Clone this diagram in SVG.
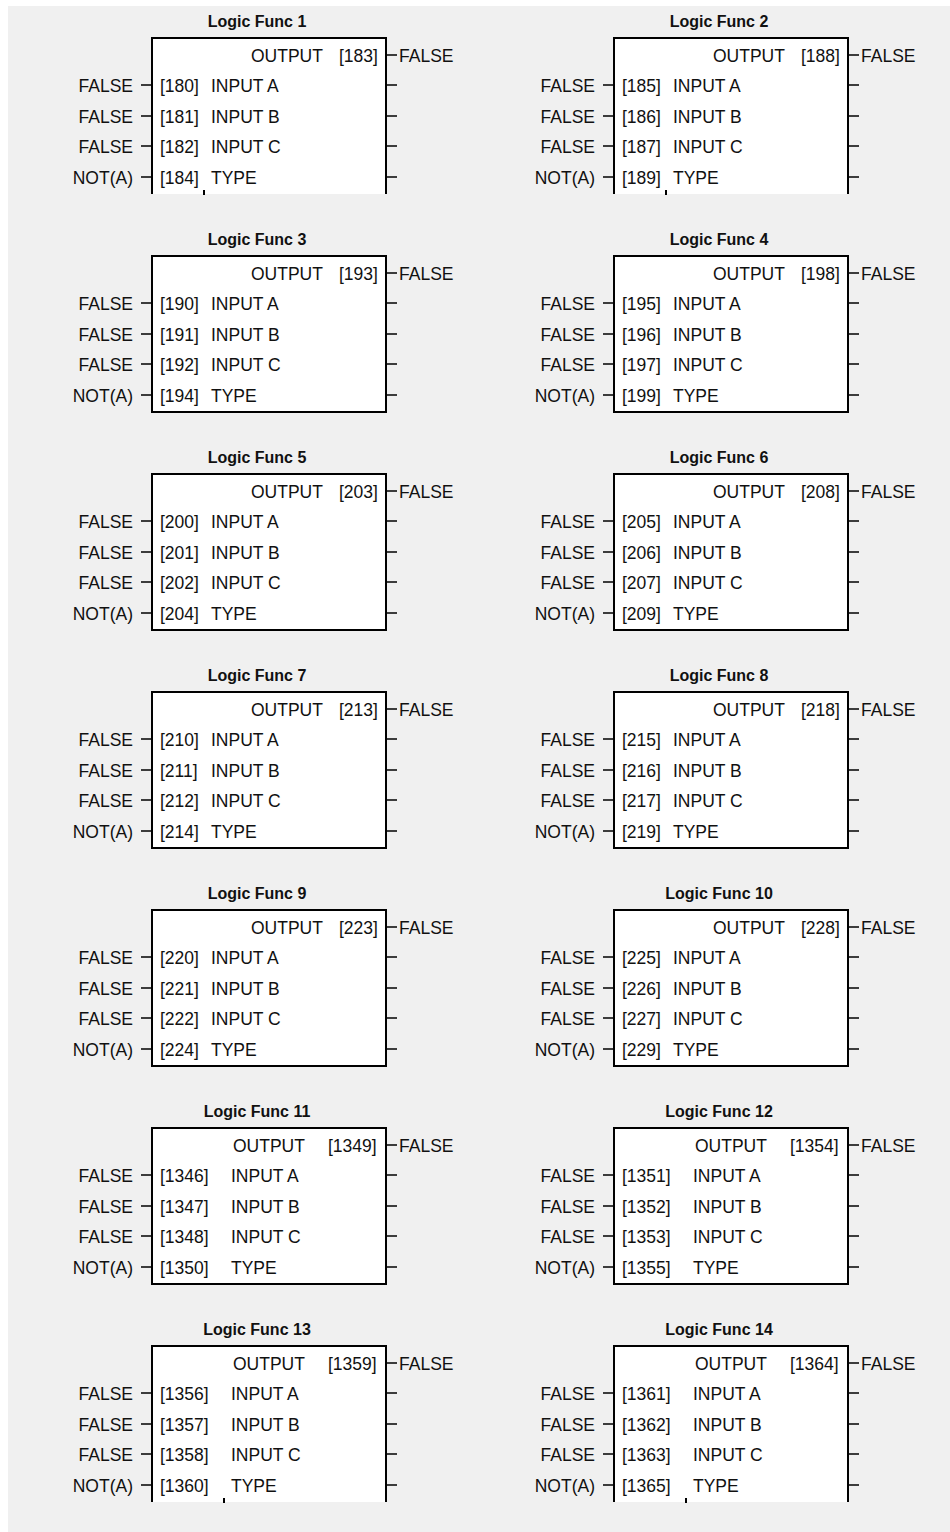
<svg xmlns="http://www.w3.org/2000/svg" xmlns:xlink="http://www.w3.org/1999/xlink" width="950" height="1532" viewBox="0 0 950 1532">
<style>
text{font-family:"Liberation Sans",Arial,sans-serif;font-size:17.5px;fill:#111}
.ttl{font-weight:bold;font-size:16px;text-anchor:middle}
.r{text-anchor:end}
.box{fill:#fff;stroke:#000;stroke-width:2}
.open{fill:none;stroke:#000;stroke-width:2}
.stub{fill:none;stroke:#000;stroke-width:1.6}
</style>
<defs>
<path id="stubs" d="M-11,47H0 M-11,78H0 M-11,108H0 M-11,139H0 M234,17H245 M234,47H245 M234,78H245 M234,108H245 M234,139H245"/>
<g id="openbox3"><rect x="0" y="0" width="234" height="156" fill="#fff"/><path class="open" d="M0,156V0H234V156 M52,152V157"/></g>
<g id="openbox4"><rect x="0" y="0" width="234" height="156" fill="#fff"/><path class="open" d="M0,156V0H234V156 M72,152V157"/></g>
</defs>
<rect x="8" y="6" width="942" height="1526" fill="#f0f0f0"/>
<g id="connectors" class="stub">
<use xlink:href="#stubs" href="#stubs" transform="translate(152,38)"/>
<use xlink:href="#stubs" href="#stubs" transform="translate(614,38)"/>
<use xlink:href="#stubs" href="#stubs" transform="translate(152,256)"/>
<use xlink:href="#stubs" href="#stubs" transform="translate(614,256)"/>
<use xlink:href="#stubs" href="#stubs" transform="translate(152,474)"/>
<use xlink:href="#stubs" href="#stubs" transform="translate(614,474)"/>
<use xlink:href="#stubs" href="#stubs" transform="translate(152,692)"/>
<use xlink:href="#stubs" href="#stubs" transform="translate(614,692)"/>
<use xlink:href="#stubs" href="#stubs" transform="translate(152,910)"/>
<use xlink:href="#stubs" href="#stubs" transform="translate(614,910)"/>
<use xlink:href="#stubs" href="#stubs" transform="translate(152,1128)"/>
<use xlink:href="#stubs" href="#stubs" transform="translate(614,1128)"/>
<use xlink:href="#stubs" href="#stubs" transform="translate(152,1346)"/>
<use xlink:href="#stubs" href="#stubs" transform="translate(614,1346)"/>
</g>

<g id="lf1" transform="translate(152,38)">
<use xlink:href="#openbox3" href="#openbox3"/>
<text class="ttl" x="105" y="-11.5">Logic Func 1</text>
<text x="99" y="24.3">OUTPUT</text><text x="187" y="24.3">[183]</text><text x="247" y="24.3">FALSE</text>
<text x="8" y="54.3">[180]</text><text x="59" y="54.3">INPUT A</text><text class="r" x="-19" y="54.3">FALSE</text>
<text x="8" y="85.3">[181]</text><text x="59" y="85.3">INPUT B</text><text class="r" x="-19" y="85.3">FALSE</text>
<text x="8" y="115.3">[182]</text><text x="59" y="115.3">INPUT C</text><text class="r" x="-19" y="115.3">FALSE</text>
<text x="8" y="146.3">[184]</text><text x="59" y="146.3">TYPE</text><text class="r" x="-19" y="146.3">NOT(A)</text>
</g>
<g id="lf2" transform="translate(614,38)">
<use xlink:href="#openbox3" href="#openbox3"/>
<text class="ttl" x="105" y="-11.5">Logic Func 2</text>
<text x="99" y="24.3">OUTPUT</text><text x="187" y="24.3">[188]</text><text x="247" y="24.3">FALSE</text>
<text x="8" y="54.3">[185]</text><text x="59" y="54.3">INPUT A</text><text class="r" x="-19" y="54.3">FALSE</text>
<text x="8" y="85.3">[186]</text><text x="59" y="85.3">INPUT B</text><text class="r" x="-19" y="85.3">FALSE</text>
<text x="8" y="115.3">[187]</text><text x="59" y="115.3">INPUT C</text><text class="r" x="-19" y="115.3">FALSE</text>
<text x="8" y="146.3">[189]</text><text x="59" y="146.3">TYPE</text><text class="r" x="-19" y="146.3">NOT(A)</text>
</g>
<g id="lf3" transform="translate(152,256)">
<rect class="box" x="0" y="0" width="234" height="156"/>
<text class="ttl" x="105" y="-11.5">Logic Func 3</text>
<text x="99" y="24.3">OUTPUT</text><text x="187" y="24.3">[193]</text><text x="247" y="24.3">FALSE</text>
<text x="8" y="54.3">[190]</text><text x="59" y="54.3">INPUT A</text><text class="r" x="-19" y="54.3">FALSE</text>
<text x="8" y="85.3">[191]</text><text x="59" y="85.3">INPUT B</text><text class="r" x="-19" y="85.3">FALSE</text>
<text x="8" y="115.3">[192]</text><text x="59" y="115.3">INPUT C</text><text class="r" x="-19" y="115.3">FALSE</text>
<text x="8" y="146.3">[194]</text><text x="59" y="146.3">TYPE</text><text class="r" x="-19" y="146.3">NOT(A)</text>
</g>
<g id="lf4" transform="translate(614,256)">
<rect class="box" x="0" y="0" width="234" height="156"/>
<text class="ttl" x="105" y="-11.5">Logic Func 4</text>
<text x="99" y="24.3">OUTPUT</text><text x="187" y="24.3">[198]</text><text x="247" y="24.3">FALSE</text>
<text x="8" y="54.3">[195]</text><text x="59" y="54.3">INPUT A</text><text class="r" x="-19" y="54.3">FALSE</text>
<text x="8" y="85.3">[196]</text><text x="59" y="85.3">INPUT B</text><text class="r" x="-19" y="85.3">FALSE</text>
<text x="8" y="115.3">[197]</text><text x="59" y="115.3">INPUT C</text><text class="r" x="-19" y="115.3">FALSE</text>
<text x="8" y="146.3">[199]</text><text x="59" y="146.3">TYPE</text><text class="r" x="-19" y="146.3">NOT(A)</text>
</g>
<g id="lf5" transform="translate(152,474)">
<rect class="box" x="0" y="0" width="234" height="156"/>
<text class="ttl" x="105" y="-11.5">Logic Func 5</text>
<text x="99" y="24.3">OUTPUT</text><text x="187" y="24.3">[203]</text><text x="247" y="24.3">FALSE</text>
<text x="8" y="54.3">[200]</text><text x="59" y="54.3">INPUT A</text><text class="r" x="-19" y="54.3">FALSE</text>
<text x="8" y="85.3">[201]</text><text x="59" y="85.3">INPUT B</text><text class="r" x="-19" y="85.3">FALSE</text>
<text x="8" y="115.3">[202]</text><text x="59" y="115.3">INPUT C</text><text class="r" x="-19" y="115.3">FALSE</text>
<text x="8" y="146.3">[204]</text><text x="59" y="146.3">TYPE</text><text class="r" x="-19" y="146.3">NOT(A)</text>
</g>
<g id="lf6" transform="translate(614,474)">
<rect class="box" x="0" y="0" width="234" height="156"/>
<text class="ttl" x="105" y="-11.5">Logic Func 6</text>
<text x="99" y="24.3">OUTPUT</text><text x="187" y="24.3">[208]</text><text x="247" y="24.3">FALSE</text>
<text x="8" y="54.3">[205]</text><text x="59" y="54.3">INPUT A</text><text class="r" x="-19" y="54.3">FALSE</text>
<text x="8" y="85.3">[206]</text><text x="59" y="85.3">INPUT B</text><text class="r" x="-19" y="85.3">FALSE</text>
<text x="8" y="115.3">[207]</text><text x="59" y="115.3">INPUT C</text><text class="r" x="-19" y="115.3">FALSE</text>
<text x="8" y="146.3">[209]</text><text x="59" y="146.3">TYPE</text><text class="r" x="-19" y="146.3">NOT(A)</text>
</g>
<g id="lf7" transform="translate(152,692)">
<rect class="box" x="0" y="0" width="234" height="156"/>
<text class="ttl" x="105" y="-11.5">Logic Func 7</text>
<text x="99" y="24.3">OUTPUT</text><text x="187" y="24.3">[213]</text><text x="247" y="24.3">FALSE</text>
<text x="8" y="54.3">[210]</text><text x="59" y="54.3">INPUT A</text><text class="r" x="-19" y="54.3">FALSE</text>
<text x="8" y="85.3">[211]</text><text x="59" y="85.3">INPUT B</text><text class="r" x="-19" y="85.3">FALSE</text>
<text x="8" y="115.3">[212]</text><text x="59" y="115.3">INPUT C</text><text class="r" x="-19" y="115.3">FALSE</text>
<text x="8" y="146.3">[214]</text><text x="59" y="146.3">TYPE</text><text class="r" x="-19" y="146.3">NOT(A)</text>
</g>
<g id="lf8" transform="translate(614,692)">
<rect class="box" x="0" y="0" width="234" height="156"/>
<text class="ttl" x="105" y="-11.5">Logic Func 8</text>
<text x="99" y="24.3">OUTPUT</text><text x="187" y="24.3">[218]</text><text x="247" y="24.3">FALSE</text>
<text x="8" y="54.3">[215]</text><text x="59" y="54.3">INPUT A</text><text class="r" x="-19" y="54.3">FALSE</text>
<text x="8" y="85.3">[216]</text><text x="59" y="85.3">INPUT B</text><text class="r" x="-19" y="85.3">FALSE</text>
<text x="8" y="115.3">[217]</text><text x="59" y="115.3">INPUT C</text><text class="r" x="-19" y="115.3">FALSE</text>
<text x="8" y="146.3">[219]</text><text x="59" y="146.3">TYPE</text><text class="r" x="-19" y="146.3">NOT(A)</text>
</g>
<g id="lf9" transform="translate(152,910)">
<rect class="box" x="0" y="0" width="234" height="156"/>
<text class="ttl" x="105" y="-11.5">Logic Func 9</text>
<text x="99" y="24.3">OUTPUT</text><text x="187" y="24.3">[223]</text><text x="247" y="24.3">FALSE</text>
<text x="8" y="54.3">[220]</text><text x="59" y="54.3">INPUT A</text><text class="r" x="-19" y="54.3">FALSE</text>
<text x="8" y="85.3">[221]</text><text x="59" y="85.3">INPUT B</text><text class="r" x="-19" y="85.3">FALSE</text>
<text x="8" y="115.3">[222]</text><text x="59" y="115.3">INPUT C</text><text class="r" x="-19" y="115.3">FALSE</text>
<text x="8" y="146.3">[224]</text><text x="59" y="146.3">TYPE</text><text class="r" x="-19" y="146.3">NOT(A)</text>
</g>
<g id="lf10" transform="translate(614,910)">
<rect class="box" x="0" y="0" width="234" height="156"/>
<text class="ttl" x="105" y="-11.5">Logic Func 10</text>
<text x="99" y="24.3">OUTPUT</text><text x="187" y="24.3">[228]</text><text x="247" y="24.3">FALSE</text>
<text x="8" y="54.3">[225]</text><text x="59" y="54.3">INPUT A</text><text class="r" x="-19" y="54.3">FALSE</text>
<text x="8" y="85.3">[226]</text><text x="59" y="85.3">INPUT B</text><text class="r" x="-19" y="85.3">FALSE</text>
<text x="8" y="115.3">[227]</text><text x="59" y="115.3">INPUT C</text><text class="r" x="-19" y="115.3">FALSE</text>
<text x="8" y="146.3">[229]</text><text x="59" y="146.3">TYPE</text><text class="r" x="-19" y="146.3">NOT(A)</text>
</g>
<g id="lf11" transform="translate(152,1128)">
<rect class="box" x="0" y="0" width="234" height="156"/>
<text class="ttl" x="105" y="-11.5">Logic Func 11</text>
<text x="81" y="24.3">OUTPUT</text><text x="176" y="24.3">[1349]</text><text x="247" y="24.3">FALSE</text>
<text x="8" y="54.3">[1346]</text><text x="79" y="54.3">INPUT A</text><text class="r" x="-19" y="54.3">FALSE</text>
<text x="8" y="85.3">[1347]</text><text x="79" y="85.3">INPUT B</text><text class="r" x="-19" y="85.3">FALSE</text>
<text x="8" y="115.3">[1348]</text><text x="79" y="115.3">INPUT C</text><text class="r" x="-19" y="115.3">FALSE</text>
<text x="8" y="146.3">[1350]</text><text x="79" y="146.3">TYPE</text><text class="r" x="-19" y="146.3">NOT(A)</text>
</g>
<g id="lf12" transform="translate(614,1128)">
<rect class="box" x="0" y="0" width="234" height="156"/>
<text class="ttl" x="105" y="-11.5">Logic Func 12</text>
<text x="81" y="24.3">OUTPUT</text><text x="176" y="24.3">[1354]</text><text x="247" y="24.3">FALSE</text>
<text x="8" y="54.3">[1351]</text><text x="79" y="54.3">INPUT A</text><text class="r" x="-19" y="54.3">FALSE</text>
<text x="8" y="85.3">[1352]</text><text x="79" y="85.3">INPUT B</text><text class="r" x="-19" y="85.3">FALSE</text>
<text x="8" y="115.3">[1353]</text><text x="79" y="115.3">INPUT C</text><text class="r" x="-19" y="115.3">FALSE</text>
<text x="8" y="146.3">[1355]</text><text x="79" y="146.3">TYPE</text><text class="r" x="-19" y="146.3">NOT(A)</text>
</g>
<g id="lf13" transform="translate(152,1346)">
<use xlink:href="#openbox4" href="#openbox4"/>
<text class="ttl" x="105" y="-11.5">Logic Func 13</text>
<text x="81" y="24.3">OUTPUT</text><text x="176" y="24.3">[1359]</text><text x="247" y="24.3">FALSE</text>
<text x="8" y="54.3">[1356]</text><text x="79" y="54.3">INPUT A</text><text class="r" x="-19" y="54.3">FALSE</text>
<text x="8" y="85.3">[1357]</text><text x="79" y="85.3">INPUT B</text><text class="r" x="-19" y="85.3">FALSE</text>
<text x="8" y="115.3">[1358]</text><text x="79" y="115.3">INPUT C</text><text class="r" x="-19" y="115.3">FALSE</text>
<text x="8" y="146.3">[1360]</text><text x="79" y="146.3">TYPE</text><text class="r" x="-19" y="146.3">NOT(A)</text>
</g>
<g id="lf14" transform="translate(614,1346)">
<use xlink:href="#openbox4" href="#openbox4"/>
<text class="ttl" x="105" y="-11.5">Logic Func 14</text>
<text x="81" y="24.3">OUTPUT</text><text x="176" y="24.3">[1364]</text><text x="247" y="24.3">FALSE</text>
<text x="8" y="54.3">[1361]</text><text x="79" y="54.3">INPUT A</text><text class="r" x="-19" y="54.3">FALSE</text>
<text x="8" y="85.3">[1362]</text><text x="79" y="85.3">INPUT B</text><text class="r" x="-19" y="85.3">FALSE</text>
<text x="8" y="115.3">[1363]</text><text x="79" y="115.3">INPUT C</text><text class="r" x="-19" y="115.3">FALSE</text>
<text x="8" y="146.3">[1365]</text><text x="79" y="146.3">TYPE</text><text class="r" x="-19" y="146.3">NOT(A)</text>
</g>
</svg>
